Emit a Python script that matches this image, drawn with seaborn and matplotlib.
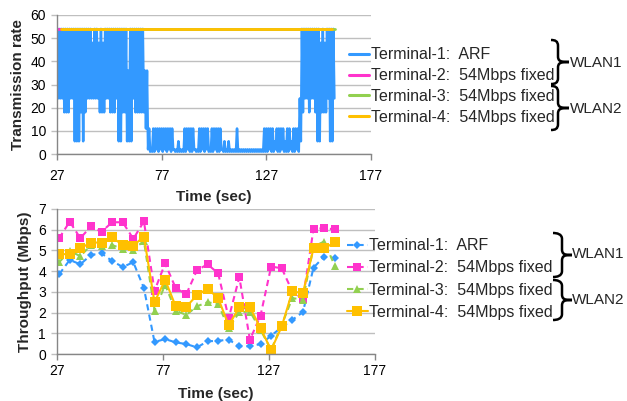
import numpy as np
import seaborn as sns
import matplotlib.pyplot as plt
from matplotlib.path import Path
from matplotlib.patches import PathPatch

# ---- top chart: transmission rate (Mbps) of Terminal-1 (ARF), peak / floor per second ----
rate_sec = list(range(27, 160))
t1_peak = [
    54, 54, 54, 54, 54, 54, 54, 54, 54, 54,      # 27-36
    54, 54, 54, 54, 54, 54, 54, 48, 54, 54,      # 37-46
    48, 54, 48, 54, 54, 54, 54, 54, 54, 54,      # 47-56
    54, 54, 54, 54, 36, 54, 54, 54, 54, 54,      # 57-66
    54, 54, 36, 36, 11, 2, 11, 11, 11, 11,       # 67-76
    11, 11, 11, 11, 11, 11, 2, 2, 5.5, 2,        # 77-86
    2, 11, 11, 11, 11, 11, 2, 2, 11, 11,         # 87-96
    11, 11, 11, 2, 11, 11, 11, 11, 11, 2,        # 97-106
    5.5, 2, 5.5, 2, 2, 2, 11, 2, 2, 2,           # 107-116
    2, 2, 2, 2, 2, 2, 2, 2, 2, 11,               # 117-126
    11, 11, 11, 11, 5.5, 11, 11, 11, 11, 5.5,    # 127-136
    11, 11, 5.5, 11, 11, 11, 24, 54, 54, 54,     # 137-146
    54, 54, 54, 54, 54, 54, 48, 54, 48, 54, 54, 54, 54,  # 147-159
]
t1_floor = [
    24, 24, 24, 18, 18, 18, 24, 24, 5.5, 5.5,
    5.5, 18, 5.5, 18, 24, 24, 24, 24, 24, 24,
    18, 18, 18, 24, 24, 18, 18, 18, 24, 5.5,
    5.5, 18, 18, 5.5, 5.5, 5.5, 24, 18, 18, 18,
    18, 18, 11, 2, 1, 1, 1, 2, 1, 2,
    1, 2, 1, 2, 1, 2, 1, 1, 1, 1,
    1, 1, 2, 1, 1, 2, 1, 1, 1, 2,
    1, 2, 1, 1, 1, 2, 1, 1, 2, 1,
    1, 1, 1, 1, 1, 1, 1, 1, 1, 1,
    1, 1, 1, 1, 1, 1, 1, 1, 1, 1,
    1, 2, 1, 1, 2, 1, 1, 2, 1, 1,
    1, 2, 1, 1, 2, 1, 5.5, 18, 24, 24,
    18, 24, 24, 18, 5.5, 5.5, 18, 18, 18, 24, 5.5, 5.5, 24,
]
fixed_rate = 54
t2_span = [27, 158]
t3_span = [29.5, 160]
t4_span = [29, 158.5]

# ---- bottom chart: throughput (Mbps) every 5 s ----
tp_time = [28, 33, 38, 43, 48, 53, 58, 63, 68, 73, 78, 83, 88, 93,
           98, 103, 108, 113, 118, 123, 128, 133, 138, 143, 148, 153, 158]
tp_t1 = [3.85, 4.54, 4.33, 4.78, 4.86, 4.49, 4.2, 4.43, 3.18, 0.58,
         0.72, 0.56, 0.48, 0.32, 0.61, 0.64, 0.69, 0.37, 0.37, 0.48,
         0.88, 1.3, 1.65, 2.02, 4.17, 4.7, 4.62]
tp_t2 = [5.59, 6.39, 5.59, 6.16, 5.9, 6.36, 6.36, 5.56, 6.4, 3.05,
         4.37, 3.18, 2.89, 4.04, 4.33, 3.9, 1.73, 3.71, 0.69, 1.85,
         4.22, 4.14, 3.02, 2.66, 6.04, 6.07, 6.02]
tp_t3 = [4.43, 4.98, 4.72, 5.26, 5.23, 5.26, 5.07, 5.04, 5.46, 2.09,
         3.34, 2.09, 1.89, 2.3, 2.5, 2.41, 1.25, 2.02, 2.05, 1.17,
         0.2, 1.4, 2.7, 2.62, 5.18, 5.43, 4.27]
tp_t4 = [4.82, 4.82, 5.1, 5.38, 5.38, 5.63, 5.26, 5.23, 5.67, 2.5,
         3.58, 2.3, 2.28, 2.84, 3.15, 2.7, 1.38, 2.26, 2.26, 1.25,
         0.19, 1.33, 3.02, 2.94, 5.1, 5.1, 5.39]

labels = ["Terminal-1:  ARF", "Terminal-2:  54Mbps fixed",
          "Terminal-3:  54Mbps fixed", "Terminal-4:  54Mbps fixed"]
colors = ["#3399FF", "#FF33CC", "#92D050", "#FFC000"]

sns.set_style("white")
plt.rcParams["font.family"] = ["Liberation Sans", "DejaVu Sans"]
plt.rcParams["path.simplify"] = False

W, H = 627, 401
fig = plt.figure(figsize=(W / 100, H / 100), dpi=100)
ax1 = fig.add_axes([57 / W, 1 - 154 / H, 314 / W, 139 / H])
ax2 = fig.add_axes([57 / W, 1 - 354 / H, 318 / W, 145 / H])


def style_axes(ax, ymax, ystep, xpad, lpad):
    ax.set_xlim(27, 177)
    ax.set_xticks([27, 77, 127, 177])
    ax.set_ylim(0, ymax)
    ax.set_yticks(np.arange(0, ymax + 0.1, ystep))
    ax.yaxis.grid(True, color="#BFBFBF", lw=1)
    ax.xaxis.grid(False)
    ax.set_axisbelow(True)
    for sp in ["top", "right"]:
        ax.spines[sp].set_visible(False)
    for sp in ["left", "bottom"]:
        ax.spines[sp].set_color("#868686")
        ax.spines[sp].set_linewidth(1)
    ax.tick_params(axis="x", bottom=True, length=4, width=1, color="#868686",
                   labelsize=10, pad=xpad, labelcolor="black")
    ax.tick_params(axis="y", left=True, length=4, width=1, color="#BFBFBF",
                   labelsize=10, pad=4, labelcolor="black")
    ax.set_xlabel("Time (sec)", fontsize=11, fontweight="bold", labelpad=lpad)


# top chart
rate_time, rate_t1 = [], []
for s, hi, lo in zip(rate_sec, t1_peak, t1_floor):
    rate_time += [s, s + 0.5]
    rate_t1 += [hi, lo]

sns.lineplot(x=rate_time, y=rate_t1, ax=ax1, color=colors[0], lw=1.8,
             estimator=None, sort=False)
for span, c in zip([t2_span, t3_span, t4_span], colors[1:]):
    sns.lineplot(x=span, y=[fixed_rate, fixed_rate], ax=ax1, color=c, lw=2,
                 estimator=None)
style_axes(ax1, 60, 10, 6.5, 5.5)
ax1.set_ylabel("Transmission rate", fontsize=11, fontweight="bold")

top_handles = [plt.Line2D([], [], color=c, lw=2.2) for c in colors]
fig.legend(top_handles, labels, loc="center left",
           bbox_to_anchor=(349 / W, 1 - 86 / H), frameon=False, fontsize=11.5,
           handlelength=1.25, handletextpad=0.1, labelspacing=0.36, borderpad=0,
           borderaxespad=0)

# bottom chart
styles = [
    dict(marker="D", markersize=4.5, linestyle=(0, (3, 2))),
    dict(marker="s", markersize=6, linestyle=(0, (3, 2))),
    dict(marker="^", markersize=6, linestyle=(0, (3, 2))),
    dict(marker="s", markersize=6.5, linestyle="-"),
]
bottom_handles = []
for ys, c, st, lab in zip([tp_t1, tp_t2, tp_t3, tp_t4], colors, styles, labels):
    sns.lineplot(x=tp_time, y=ys, ax=ax2, color=c, lw=1.5, estimator=None,
                 markeredgecolor=c, markeredgewidth=0, **st)
    bottom_handles.append(plt.Line2D([], [], color=c, lw=1.5, markeredgewidth=0, **st))
style_axes(ax2, 7, 1, 2.9, 7)
ax2.set_ylabel("Throughput (Mbps)", fontsize=11, fontweight="bold")
if ax2.get_legend():
    ax2.get_legend().remove()

fig.legend(bottom_handles, labels, loc="center left",
           bbox_to_anchor=(347 / W, 1 - 279 / H), frameon=False, fontsize=11.5,
           handlelength=1.3, handletextpad=0.1, labelspacing=0.45, borderpad=0,
           borderaxespad=0)


def brace(x0, xv, xt, ya, yb):
    ym = (ya + yb) / 2
    pts = [(x0, ya), (x0 + 4, ya), (xv, ya + 1), (xv, ya + 6),
           (xv, ym - 6), (xv, ym - 1), (xv + 2, ym), (xt, ym),
           (xv + 2, ym), (xv, ym + 1), (xv, ym + 6),
           (xv, yb - 6), (xv, yb - 1), (x0 + 4, yb), (x0, yb)]
    codes = [Path.MOVETO, Path.CURVE4, Path.CURVE4, Path.CURVE4,
             Path.LINETO, Path.CURVE4, Path.CURVE4, Path.CURVE4,
             Path.CURVE4, Path.CURVE4, Path.CURVE4,
             Path.LINETO, Path.CURVE4, Path.CURVE4, Path.CURVE4]
    verts = [(x / W, 1 - y / H) for x, y in pts]
    fig.add_artist(PathPatch(Path(verts, codes), transform=fig.transFigure,
                             fill=False, lw=1.8, ec="black"))


brace(551, 558, 569, 40, 84)
brace(551, 558, 569, 86, 130)
brace(553, 562, 572, 233, 277)
brace(553, 562, 572, 280, 320)
for x, y, s in [(570, 63, "WLAN1"), (570, 109, "WLAN2"),
                (572, 254, "WLAN1"), (572, 300, "WLAN2")]:
    fig.text(x / W, 1 - y / H, s, fontsize=11, ha="left", va="center")

fig.savefig("out.png", dpi=100)
